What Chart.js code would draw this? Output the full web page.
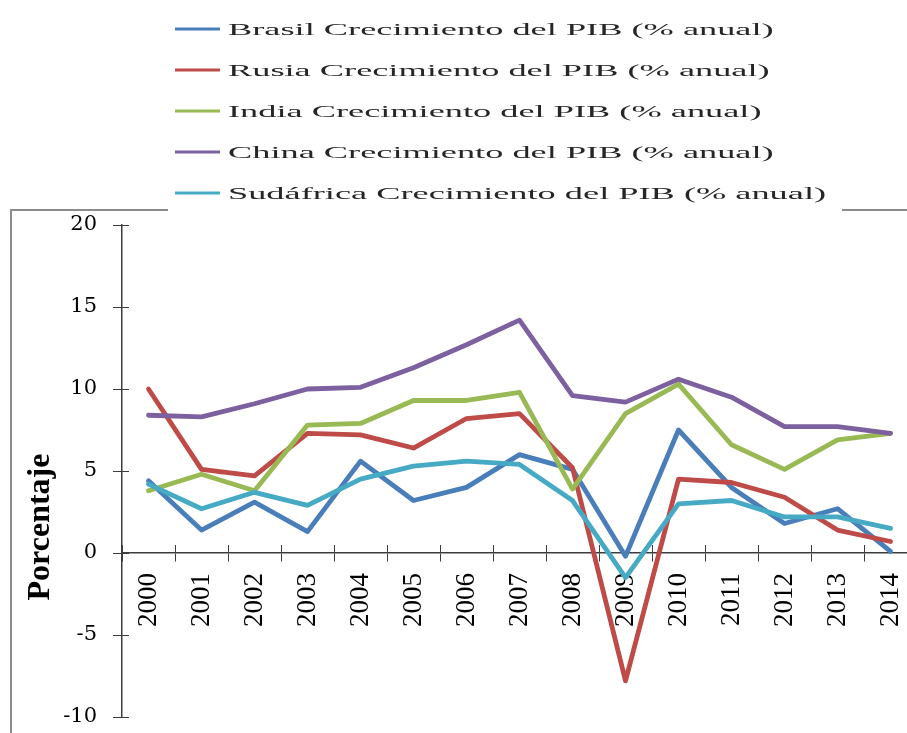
<!DOCTYPE html>
<html>
<head>
<meta charset="utf-8">
<script src="https://cdn.jsdelivr.net/npm/chart.js@4.4.1/dist/chart.umd.min.js"></script>
<style>
html, body { margin: 0; padding: 0; background: #ffffff; overflow: hidden; width: 907px; height: 733px; }
canvas { display: block; }
</style>
</head>
<body>
<canvas id="chart" width="940" height="733" style="width:940px;height:733px"></canvas>
<script>
// ---- data ----
const years = ['2000','2001','2002','2003','2004','2005','2006','2007','2008','2009','2010','2011','2012','2013','2014'];
const brasil    = [4.4, 1.4, 3.1, 1.3, 5.6, 3.2, 4.0, 6.0, 5.1, -0.2, 7.5, 4.0, 1.8, 2.7, 0.1];
const rusia     = [10.0, 5.1, 4.7, 7.3, 7.2, 6.4, 8.2, 8.5, 5.2, -7.8, 4.5, 4.3, 3.4, 1.4, 0.7];
const india     = [3.8, 4.8, 3.8, 7.8, 7.9, 9.3, 9.3, 9.8, 3.9, 8.5, 10.3, 6.6, 5.1, 6.9, 7.3];
const china     = [8.4, 8.3, 9.1, 10.0, 10.1, 11.3, 12.7, 14.2, 9.6, 9.2, 10.6, 9.5, 7.7, 7.7, 7.3];
const sudafrica = [4.2, 2.7, 3.7, 2.9, 4.5, 5.3, 5.6, 5.4, 3.2, -1.5, 3.0, 3.2, 2.2, 2.2, 1.5];
const seriesLabels = [
  'Brasil Crecimiento del PIB (% anual)',
  'Rusia Crecimiento del PIB (% anual)',
  'India Crecimiento del PIB (% anual)',
  'China Crecimiento del PIB (% anual)',
  'Sudáfrica Crecimiento del PIB (% anual)'
];
const yTickValues = [-10, -5, 0, 5, 10, 15, 20];
const yAxisTitle = 'Porcentaje';

// ---- styling ----
const seriesColors = ['#4A7EBB', '#BE4B48', '#98B954', '#7D60A0', '#46AAC5'];
const AXIS_COLOR = '#3c3c3c';
const LEGEND_STRETCH = 2.27;

function withStretchedText(ctx, fn) {
  const origFill = ctx.fillText;
  const origMeasure = ctx.measureText;
  ctx.measureText = function (t) {
    const m = origMeasure.call(this, t);
    return { width: m.width * LEGEND_STRETCH, actualBoundingBoxAscent: m.actualBoundingBoxAscent, actualBoundingBoxDescent: m.actualBoundingBoxDescent };
  };
  ctx.fillText = function (t, x, y) {
    this.save();
    this.translate(x, y + 2);
    this.scale(LEGEND_STRETCH, 1);
    origFill.call(this, t, 0, 0);
    this.restore();
  };
  try { return fn(); } finally { delete ctx.fillText; delete ctx.measureText; }
}

const legendPatch = {
  id: 'legendPatch',
  afterInit(chart) {
    const lg = chart.legend;
    const fit0 = lg.fit.bind(lg);
    const draw0 = lg.draw.bind(lg);
    lg.fit = function () { withStretchedText(chart.ctx, fit0); this.height = 225; };
    lg.draw = function () {
      const c = chart.ctx;
      c.save();
      c.translate(150, -4);
      withStretchedText(c, draw0);
      c.restore();
    };
  }
};

const framePlugin = {
  id: 'frame',
  beforeDraw(chart) {
    const c = chart.ctx;
    c.save();
    c.fillStyle = '#ffffff';
    c.fillRect(0, 0, chart.width, chart.height);
    c.strokeStyle = '#8c8c8c';
    c.lineWidth = 2;
    c.strokeRect(11, 210, 3000, 3000);
    c.fillStyle = '#ffffff';
    c.fillRect(168, 0, 674, 213);
    c.restore();
  }
};

const innerTicks = {
  id: 'innerTicks',
  beforeDatasetsDraw(chart) {
    const xs = chart.scales.x, ys = chart.scales.y, c = chart.ctx;
    c.save();
    c.strokeStyle = AXIS_COLOR;
    c.lineWidth = 1;
    const y0 = ys.getPixelForValue(0);
    for (let i = 0; i <= xs.ticks.length; i++) {
      const px = Math.round(xs.getPixelForValue(i - 0.5)) + 0.5;
      c.beginPath(); c.moveTo(px, y0 - 8); c.lineTo(px, y0); c.stroke();
    }
    ys.ticks.forEach(t => {
      const py = Math.round(ys.getPixelForValue(t.value)) + 0.5;
      c.beginPath(); c.moveTo(ys.right, py); c.lineTo(ys.right + 7, py); c.stroke();
    });
    // y-axis title
    c.fillStyle = '#000000';
    c.font = 'bold 32px "Liberation Serif"';
    c.textAlign = 'center';
    c.textBaseline = 'alphabetic';
    c.translate(49, 527);
    c.rotate(-Math.PI / 2);
    c.fillText(yAxisTitle, 0, 0);
    c.restore();
  }
};

const seriesData = [brasil, rusia, india, china, sudafrica];
const datasets = seriesData.map((d, i) => ({
  label: seriesLabels[i],
  data: d,
  borderColor: seriesColors[i],
  backgroundColor: seriesColors[i],
  borderWidth: 4.8,
  pointRadius: 0,
  pointStyle: 'line',
  tension: 0,
  fill: false,
  borderJoinStyle: 'round',
  borderCapStyle: 'round',
  order: seriesData.length - i
}));

new Chart(document.getElementById('chart'), {
  type: 'line',
  data: { labels: years, datasets },
  plugins: [legendPatch, framePlugin, innerTicks],
  options: {
    responsive: false,
    animation: false,
    devicePixelRatio: 1,
    events: [],
    layout: { padding: { top: 0, left: 0, right: 23, bottom: 16 } },
    plugins: {
      tooltip: { enabled: false },
      legend: {
        display: true,
        position: 'top',
        align: 'start',
        labels: {
          color: '#262626',
          font: { family: '"Liberation Serif"', size: 16 },
          padding: 25,
          usePointStyle: true,
          pointStyleWidth: 45,
          sort: (a, b) => a.datasetIndex - b.datasetIndex,
          generateLabels(chart) {
            const items = Chart.defaults.plugins.legend.labels.generateLabels(chart);
            items.forEach(it => { it.lineWidth = 3; it.pointStyle = 'line'; it.lineCap = 'butt'; });
            return items;
          }
        }
      }
    },
    scales: {
      x: {
        type: 'category',
        position: { y: 0 },
        offset: true,
        grid: { display: true, drawOnChartArea: false, drawTicks: true, tickLength: 8, offset: true, color: AXIS_COLOR },
        border: { display: true, color: AXIS_COLOR, width: 1.5 },
        ticks: {
          autoSkip: false,
          minRotation: 90,
          maxRotation: 90,
          padding: 12,
          color: '#000000',
          font: { family: '"Liberation Serif"', size: 27 }
        },
        afterFit(s) { s.height = 0; s.paddingLeft = 0; s.paddingRight = 0; }
      },
      y: {
        type: 'linear',
        position: 'left',
        min: -10,
        max: 20,
        afterBuildTicks(s) { s.ticks = yTickValues.map(v => ({ value: v })); },
        grid: { display: true, drawOnChartArea: false, drawTicks: true, tickLength: 9, color: AXIS_COLOR },
        border: { display: true, color: AXIS_COLOR, width: 1.5 },
        ticks: {
          padding: 16,
          color: '#000000',
          font: { family: '"DejaVu Serif"', size: 21 }
        },
        afterFit(s) { s.width = 122; s.paddingTop = 0; s.paddingBottom = 0; }
      }
    }
  }
});
</script>
</body>
</html>
